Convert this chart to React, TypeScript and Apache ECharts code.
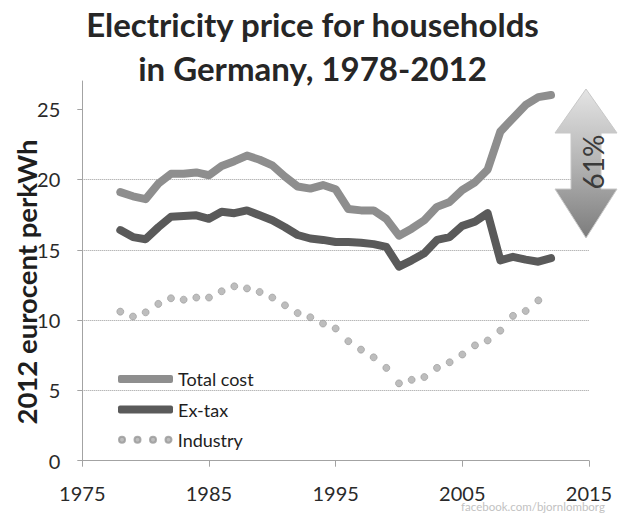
import React, { useEffect, useRef } from "react";
import * as echarts from "echarts";

const years = [
  1978, 1979, 1980, 1981, 1982, 1983, 1984, 1985, 1986, 1987, 1988, 1989,
  1990, 1991, 1992, 1993, 1994, 1995, 1996, 1997, 1998, 1999, 2000, 2001,
  2002, 2003, 2004, 2005, 2006, 2007, 2008, 2009, 2010, 2011, 2012,
];
const totalCost = [
  19.1, 18.8, 18.6, 19.7, 20.4, 20.4, 20.5, 20.3, 20.95, 21.3, 21.7, 21.4,
  21.0, 20.2, 19.5, 19.35, 19.6, 19.3, 17.9, 17.8, 17.8, 17.2, 16.0, 16.5,
  17.1, 18.05, 18.4, 19.25, 19.8, 20.7, 23.4, 24.35, 25.3, 25.85, 26.0,
];
const exTax = [
  16.4, 15.9, 15.75, 16.6, 17.35, 17.4, 17.45, 17.2, 17.7, 17.6, 17.8, 17.45,
  17.1, 16.6, 16.05, 15.8, 15.7, 15.55, 15.55, 15.5, 15.4, 15.2, 13.8, 14.25,
  14.75, 15.7, 15.9, 16.7, 17.0, 17.6, 14.25, 14.5, 14.3, 14.15, 14.4,
];
const industryYears = [
  1978, 1979, 1980, 1981, 1982, 1983, 1984, 1985, 1986, 1987, 1988, 1989,
  1990, 1991, 1992, 1993, 1994, 1995, 1996, 1997, 1998, 1999, 2000, 2001,
  2002, 2003, 2004, 2005, 2006, 2007, 2008, 2009, 2010, 2011,
];
const industry = [
  10.6, 10.25, 10.55, 11.15, 11.55, 11.45, 11.6, 11.6, 12.05, 12.4, 12.25, 12.0,
  11.6, 11.05, 10.5, 10.2, 9.75, 9.4, 8.5, 7.9, 7.35, 6.6, 5.5, 5.75,
  5.95, 6.6, 7.0, 7.55, 8.2, 8.55, 9.25, 10.3, 10.65, 11.4,
];
const xTicks = [1975, 1985, 1995, 2005, 2015];
const yTicks = [0, 5, 10, 15, 20, 25];
const seriesNames = ["Total cost", "Ex-tax", "Industry"];

const FONT = "Lato";
const dotsIcon =
  "path://M0,3A3,3,0,1,0,6,3A3,3,0,1,0,0,3ZM15.5,3A3,3,0,1,0,21.5,3A3,3,0,1,0,15.5,3ZM31,3A3,3,0,1,0,37,3A3,3,0,1,0,31,3ZM46.5,3A3,3,0,1,0,52.5,3A3,3,0,1,0,46.5,3Z";

export default function App() {
  const ref = useRef<HTMLDivElement>(null);
  useEffect(() => {
    if (!ref.current) return;
    const chart = echarts.init(ref.current, null, { renderer: "svg" });
    const legendText = { fontFamily: FONT, fontSize: 18, color: "#1e1e1e" };
    const axisGray = "#a3a3a3";
    chart.setOption({
      animation: false,
      backgroundColor: "#ffffff",
      title: {
        text: "Electricity price for households\nin Germany, 1978-2012",
        left: "center",
        top: 2,
        padding: 0,
        textStyle: {
          fontFamily: FONT,
          fontWeight: "bold",
          fontSize: 33,
          lineHeight: 44,
          color: "#262626",
          align: "center",
        },
      },
      grid: { left: 82.3, right: 36, top: 81, bottom: 52.3 },
      legend: [
        {
          left: 118, top: 370, padding: 0, itemWidth: 55, itemHeight: 8,
          selectedMode: false, textStyle: legendText,
          data: [{ name: seriesNames[0], icon: "roundRect" }],
        },
        {
          left: 118, top: 400.5, padding: 0, itemWidth: 55, itemHeight: 8,
          selectedMode: false, textStyle: legendText,
          data: [{ name: seriesNames[1], icon: "roundRect" }],
        },
        {
          left: 118, top: 430.7, padding: 0, itemWidth: 55, itemHeight: 6,
          selectedMode: false, textStyle: legendText,
          data: [{ name: seriesNames[2], icon: dotsIcon }],
        },
      ],
      xAxis: {
        type: "value",
        min: 1975,
        max: 2015,
        axisLine: { show: true, lineStyle: { color: axisGray, width: 1 } },
        axisTick: {
          show: true,
          customValues: xTicks,
          length: 6,
          lineStyle: { color: axisGray },
        },
        axisLabel: {
          customValues: xTicks,
          formatter: (v: number) => String(v),
          fontFamily: FONT,
          fontSize: 20,
          color: "#2a2a2a",
          margin: 22,
        },
        splitLine: { show: false },
      },
      yAxis: {
        type: "value",
        min: 0,
        max: 27,
        interval: 5,
        axisLine: { show: true, lineStyle: { color: axisGray, width: 1 } },
        axisTick: {
          show: true,
          customValues: yTicks,
          length: 5,
          lineStyle: { color: axisGray },
        },
        axisLabel: {
          customValues: yTicks,
          formatter: (v: number) => String(v),
          fontFamily: FONT,
          fontSize: 20,
          color: "#2a2a2a",
          margin: 22,
        },
        splitLine: {
          show: true,
          showMaxLine: false,
          lineStyle: { color: "#9a9a9a", type: "dotted", width: 1 },
        },
      },
      graphic: [
        {
          type: "text",
          x: 26.5,
          y: 282,
          rotation: Math.PI / 2,
          style: {
            text: "2012 eurocent perkWh",
            fontFamily: FONT,
            fontWeight: "bold",
            fontSize: 27.5,
            fill: "#1e1e1e",
            align: "center",
            verticalAlign: "middle",
          },
        },
        {
          type: "polygon",
          z: 100,
          shape: {
            points: [
              [586, 89],
              [617, 133],
              [601, 133],
              [601, 189],
              [617, 189],
              [586, 238],
              [555, 189],
              [571, 189],
              [571, 133],
              [555, 133],
            ],
          },
          style: {
            fill: {
              type: "linear",
              x: 0,
              y: 0,
              x2: 0,
              y2: 1,
              colorStops: [
                { offset: 0, color: "#e4e4e4" },
                { offset: 0.5, color: "#b4b4b4" },
                { offset: 1, color: "#7c7c7c" },
              ],
            },
            stroke: "#c8c8c8",
            lineWidth: 1,
          },
        },
        {
          type: "text",
          z: 101,
          x: 593,
          y: 162,
          rotation: Math.PI / 2,
          style: {
            text: "61%",
            fontFamily: FONT,
            fontSize: 28,
            fill: "#3a3a3a",
            align: "center",
            verticalAlign: "middle",
          },
        },
        {
          type: "text",
          x: 533,
          y: 506.5,
          style: {
            text: "facebook.com/bjornlomborg",
            fontFamily: FONT,
            fontSize: 11.5,
            fill: "#c2c2c2",
            align: "center",
            verticalAlign: "middle",
          },
        },
      ],
      series: [
        {
          name: seriesNames[0],
          type: "line",
          data: years.map((y, i) => [y, totalCost[i]]),
          showSymbol: false,
          symbol: "none",
          itemStyle: { color: "#8e8e8e" },
          lineStyle: { color: "#8e8e8e", width: 8, cap: "round", join: "round" },
        },
        {
          name: seriesNames[1],
          type: "line",
          data: years.map((y, i) => [y, exTax[i]]),
          showSymbol: false,
          symbol: "none",
          itemStyle: { color: "#5a5a5a" },
          lineStyle: { color: "#5a5a5a", width: 8, cap: "round", join: "round" },
        },
        {
          name: seriesNames[2],
          type: "scatter",
          data: industryYears.map((y, i) => [y, industry[i]]),
          symbolSize: 7,
          itemStyle: { color: "#acacac", borderColor: "#999999", borderWidth: 0.8 },
        },
      ],
    });
    return () => chart.dispose();
  }, []);
  return (
    <div
      ref={ref}
      style={{ position: "fixed", left: 0, top: 0, width: 625, height: 513, background: "#fff" }}
    />
  );
}
